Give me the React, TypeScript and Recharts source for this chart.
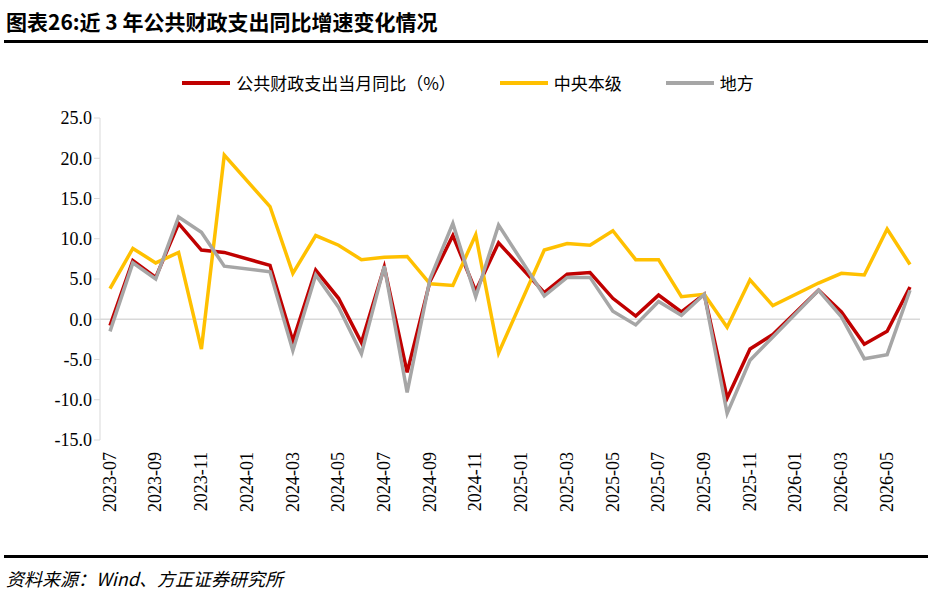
import React from 'react';
import { LineChart, Line, XAxis, YAxis, ReferenceLine } from 'recharts';

const months = [
  '2023-07', '2023-08', '2023-09', '2023-10', '2023-11', '2023-12',
  '2024-01', '2024-02', '2024-03', '2024-04', '2024-05', '2024-06',
  '2024-07', '2024-08', '2024-09', '2024-10', '2024-11', '2024-12',
  '2025-01', '2025-02', '2025-03', '2025-04', '2025-05', '2025-06',
  '2025-07', '2025-08', '2025-09', '2025-10', '2025-11', '2025-12',
  '2026-01', '2026-02', '2026-03', '2026-04', '2026-05', '2026-06',
];

const total = [
  -0.8, 7.3, 5.2, 11.9, 8.6, 8.3, null, 6.7, -2.7, 6.1, 2.6, -2.9,
  6.5, -6.6, 4.7, 10.4, 3.5, 9.5, null, 3.3, 5.6, 5.8, 2.6, 0.4,
  3.0, 0.9, 3.1, -9.8, -3.7, -1.9, null, 3.6, 0.9, -3.1, -1.5, 4.0,
];
const central = [
  3.8, 8.8, 7.0, 8.3, -3.7, 20.4, null, 14.0, 5.7, 10.4, 9.2, 7.4,
  7.7, 7.8, 4.4, 4.2, 10.5, -4.2, null, 8.6, 9.4, 9.2, 11.0, 7.4,
  7.4, 2.8, 3.1, -1.0, 4.9, 1.7, null, 4.5, 5.7, 5.5, 11.2, 6.8,
];
const local = [
  -1.5, 7.0, 5.0, 12.7, 10.8, 6.6, null, 5.9, -3.9, 5.5, 1.5, -4.3,
  6.6, -9.1, 5.0, 11.9, 2.8, 11.7, null, 2.9, 5.2, 5.2, 1.0, -0.7,
  2.2, 0.5, 3.1, -11.7, -5.1, -2.2, null, 3.6, 0.3, -4.9, -4.4, 3.6,
];

const yTicks = [-15, -10, -5, 0, 5, 10, 15, 20, 25];

const series = [
  { key: 'total', name: '公共财政支出当月同比（%）', color: '#C00000' },
  { key: 'central', name: '中央本级', color: '#FFC000' },
  { key: 'local', name: '地方', color: '#A6A6A6' },
];

const data = months.map((m, i) => ({ m, total: total[i], central: central[i], local: local[i] }));

const serif = '"Liberation Serif", "Times New Roman", serif';
const cjk = '"Noto Sans CJK SC", sans-serif';

export default function App() {
  return (
    <div style={{ position: 'absolute', left: 0, top: 0, width: 936, height: 604, background: '#fff' }}>
      <div style={{ position: 'absolute', left: 6, top: 6, fontFamily: cjk, fontSize: 21, fontWeight: 700, color: '#000' }}>
        图表26:近 3 年公共财政支出同比增速变化情况
      </div>
      <div style={{ position: 'absolute', left: 4, top: 40, width: 924, height: 3, background: '#000' }} />
      <div style={{ position: 'absolute', left: 0, top: 70, width: 936, display: 'flex', justifyContent: 'center', gap: 44, fontFamily: cjk, fontSize: 17 }}>
        {series.map(s => (
          <div key={s.key} style={{ display: 'flex', alignItems: 'center', gap: 6 }}>
            <div style={{ width: 48, height: 4, background: s.color }} />
            <span>{s.name}</span>
          </div>
        ))}
      </div>
      <div style={{ position: 'absolute', left: 0, top: 0 }}>
        <LineChart width={936} height={604} data={data} margin={{ top: 118, right: 16, left: 38, bottom: 60 }}>
          <YAxis
            width={62}
            domain={[-15, 25]}
            ticks={yTicks}
            tickFormatter={(v: number) => v.toFixed(1)}
            axisLine={{ stroke: '#D9D9D9' }}
            tickLine={{ stroke: '#D9D9D9' }}
            tick={{ fontFamily: serif, fontSize: 18, fill: '#000' }}
          />
          <XAxis
            dataKey="m"
            interval={1}
            height={104}
            padding={{ left: 10, right: 10 }}
            axisLine={false}
            tickLine={false}
            angle={-90}
            textAnchor="end"
            dy={4}
            dx={-7}
            tick={{ fontFamily: serif, fontSize: 18, fill: '#000' }}
          />
          <ReferenceLine y={0} stroke="#D9D9D9" strokeWidth={1.5} />
          {series.map(s => (
            <Line
              key={s.key}
              dataKey={s.key}
              stroke={s.color}
              strokeWidth={3.5}
              dot={false}
              connectNulls
              type="linear"
              isAnimationActive={false}
            />
          ))}
        </LineChart>
      </div>
      <div style={{ position: 'absolute', left: 4, top: 555, width: 924, height: 3, background: '#000' }} />
      <div style={{ position: 'absolute', left: 6, top: 565, fontFamily: cjk, fontSize: 18, fontStyle: 'italic' }}>
        资料来源：Wind、方正证券研究所
      </div>
    </div>
  );
}
